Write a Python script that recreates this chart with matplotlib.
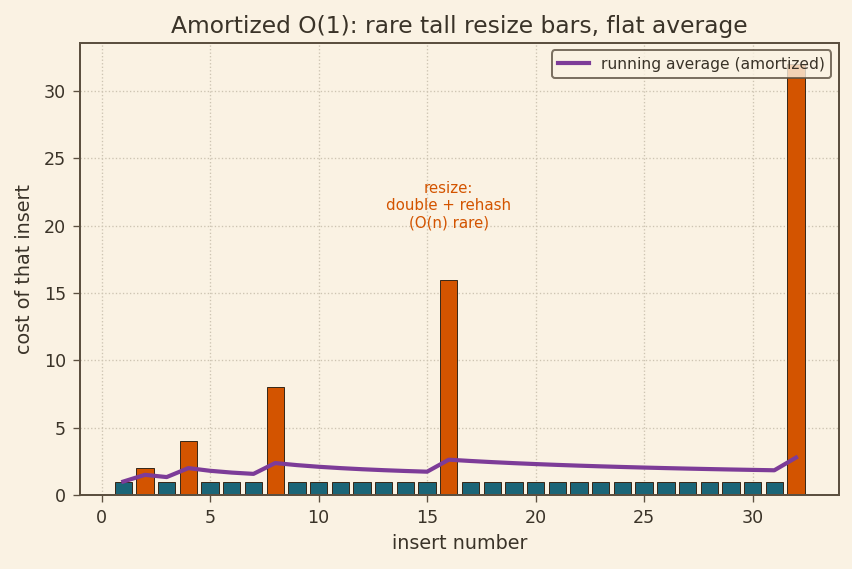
import numpy as np
import matplotlib
matplotlib.use("Agg")
import matplotlib.pyplot as plt

inserts = list(range(1, 33))
resize_at = [2, 4, 8, 16, 32]
costs = [n if n in resize_at else 1 for n in inserts]
running_avg = np.cumsum(costs) / np.arange(1, len(costs) + 1)

BG = "#faf2e3"
INK = "#3a3328"
SPINE = "#5c5040"
TEAL = "#1b6577"
ORANGE = "#d35400"
PURPLE = "#7d3c98"

plt.rcParams["font.family"] = "DejaVu Sans"

fig = plt.figure(figsize=(7.1, 569 / 120), dpi=120, facecolor=BG)
ax = fig.add_axes([0.094, 0.130, 0.891, 0.795])
ax.set_facecolor(BG)

colors = [ORANGE if n in resize_at else TEAL for n in inserts]
ax.bar(inserts, costs, width=0.8, color=colors, edgecolor="#3a2a1a", linewidth=0.6, zorder=2)
ax.plot(inserts, running_avg, color=PURPLE, linewidth=2.5, zorder=3,
        label="running average (amortized)")

ax.text(16, 21.5, "resize:\ndouble + rehash\n(O(n) rare)", color=ORANGE,
        fontsize=9, ha="center", va="center")

ax.grid(True, linestyle=":", color="#cdc4b2", linewidth=0.8, zorder=0)
ax.set_axisbelow(True)
for s in ax.spines.values():
    s.set_color(SPINE)
    s.set_linewidth(1.2)
ax.tick_params(colors=SPINE, labelcolor=INK, labelsize=10.5, length=4, pad=4.5)

ax.set_title("Amortized O(1): rare tall resize bars, flat average", fontsize=14, color=INK)
ax.set_xlabel("insert number", fontsize=11.5, color=INK)
ax.set_ylabel("cost of that insert", fontsize=11.5, color=INK, labelpad=6)

leg = ax.legend(loc="upper right", fontsize=9.3, facecolor=BG, edgecolor=SPINE,
                framealpha=0.8, labelcolor=INK)
leg.get_frame().set_linewidth(1.2)

fig.savefig("out.png", dpi=120, facecolor=BG)
